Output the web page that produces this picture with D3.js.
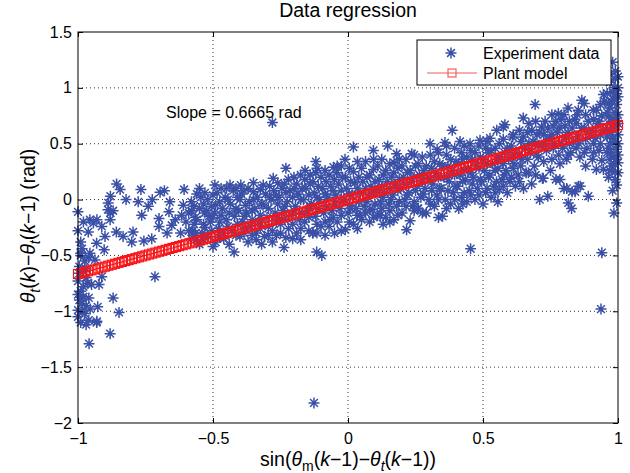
<!DOCTYPE html>
<html>
<head>
    <meta charset="utf-8">
    <title>Data regression</title>
    <script src="https://d3js.org/d3.v7.min.js"></script>
    <style>
        body { margin: 0; background: #fff; }
        text { font-family: "Liberation Sans", Arial, sans-serif; fill: #000; }
    </style>
</head>
<body>
    <script>
        // Experiment data as [x, y] pairs
        const leftEdge = [[-1,-0.11],[-0.99,-0.5],[-0.995,-0.6],[-1,-0.73],[-0.99,-0.82],[-0.98,-0.87],[-0.985,-0.93],[-1,-0.99],
            [-0.975,-1.02],[-0.96,-1.08],[-1,-1.05],[-0.99,-1.1],[-0.97,-0.95],[-0.98,-0.78],[-0.995,-0.66],[-0.97,-0.62],
            [-0.985,-0.44],[-0.99,-0.48],[-0.975,-0.55],[-0.99,-0.38],[-1,-0.28],[-0.98,-0.2],[-0.995,-0.9],[-0.97,-0.7],
            [-0.985,-1.0],[-0.96,-0.88],[-0.965,-0.75],[-1,-0.85],[-0.98,-0.64],[-0.96,-0.52],[-0.97,-1.12],[-0.955,-0.98]];

        const leftSparse = [[-0.857,0.14],[-0.844,0.09],[-0.767,0.09],[-0.696,0.065],[-0.607,0.09],[-0.822,0.0],[-0.777,-0.02],
            [-0.725,0.0],[-0.888,-0.03],[-0.889,-0.09],[-0.87,-0.1],[-0.956,-0.18],[-0.943,-0.21],[-0.912,-0.24],[-0.881,-0.18],
            [-0.764,-0.14],[-0.74,-0.06],[-0.70,-0.17],[-0.70,-0.24],[-0.663,-0.11],[-0.653,-0.23],[-0.616,-0.14],[-0.858,-0.29],
            [-0.833,-0.33],[-0.796,-0.29],[-0.756,-0.37],[-0.727,-0.35],[-0.801,-0.38],[-0.9,-0.33],[-0.931,-0.39],[-0.962,-0.29],
            [-0.956,-0.48],[-0.903,-0.45],[-0.937,-0.54],[-0.912,-0.69],[-0.95,-0.76],[-0.922,-0.76],[-0.927,-0.96],[-0.931,-1.10],
            [-0.87,-0.88],[-0.848,-1.01],[-0.881,-1.20],[-0.959,-1.29],[-0.715,-0.69],[-0.93,-1.09],[-0.6,-0.2],[-0.59,-0.28],
            [-0.62,-0.3],[-0.64,-0.18],[-0.58,-0.1],[-0.57,-0.32],[-0.61,-0.05],[-0.67,-0.3],[-0.66,-0.02],[-0.68,0.08],
            [-0.88,0.03],[-0.88,-0.12],[-0.93,-0.18]];

        const band = [[-0.58,-0.35],[-0.57,-0.22],[-0.59,-0.12],[-0.58,-0.02],[-0.56,0.05],[-0.575,-0.28],
            [-0.55,-0.4],[-0.54,-0.3],[-0.56,-0.18],[-0.55,-0.08],[-0.545,0.02],[-0.53,-0.25],[-0.55,0.1],
            [-0.52,-0.33],[-0.51,-0.2],[-0.525,-0.1],[-0.515,-0.15],[-0.52,0.0],[-0.5,-0.42],
            [-0.49,-0.38],[-0.48,-0.26],[-0.495,-0.12],[-0.49,-0.05],[-0.485,0.06],[-0.493,0.13],[-0.475,-0.2],
            [-0.46,-0.3],[-0.45,-0.18],[-0.465,-0.08],[-0.455,0.02],[-0.46,-0.35],[-0.45,0.1],
            [-0.43,-0.28],[-0.42,-0.15],[-0.435,-0.04],[-0.425,0.08],[-0.41,-0.22],[-0.437,0.13],
            [-0.4,-0.33],[-0.39,-0.2],[-0.405,-0.1],[-0.4,0.0],[-0.395,0.05],[-0.38,-0.26],[-0.397,0.13],
            [-0.37,-0.38],[-0.36,-0.24],[-0.375,-0.12],[-0.365,-0.02],[-0.37,0.1],[-0.355,-0.18],
            [-0.34,-0.3],[-0.33,-0.2],[-0.345,-0.08],[-0.335,0.02],[-0.35,0.15],[-0.325,-0.14],[-0.34,-0.36],
            [-0.31,-0.33],[-0.3,-0.16],[-0.315,-0.05],[-0.305,0.05],[-0.314,0.13],[-0.295,-0.24],
            [-0.28,-0.28],[-0.27,-0.12],[-0.285,0.0],[-0.275,0.08],[-0.277,0.19],[-0.265,-0.2],[-0.28,-0.38],
            [-0.25,-0.22],[-0.24,-0.1],[-0.255,0.02],[-0.245,0.1],[-0.25,-0.3],[-0.237,-0.43],[-0.26,0.15],
            [-0.22,-0.26],[-0.21,-0.14],[-0.225,-0.02],[-0.215,0.08],[-0.23,0.28],[-0.205,-0.35],[-0.221,0.18],
            [-0.19,-0.3],[-0.18,-0.18],[-0.195,-0.06],[-0.185,0.05],[-0.19,0.14],[-0.175,0.22],
            [-0.16,-0.2],[-0.15,-0.1],[-0.165,0.0],[-0.155,0.1],[-0.159,0.26],[-0.145,-0.28],[-0.16,0.18],
            [-0.13,-0.3],[-0.12,-0.15],[-0.135,-0.04],[-0.125,0.06],[-0.13,0.16],[-0.119,0.24],[-0.115,-0.22],
            [-0.1,-0.24],[-0.09,-0.12],[-0.105,0.0],[-0.095,0.1],[-0.1,0.2],[-0.119,0.34],
            [-0.07,-0.24],[-0.06,-0.1],[-0.075,0.02],[-0.065,0.12],[-0.07,0.22],[-0.067,-0.18],[-0.054,0.29],
            [-0.04,-0.2],[-0.03,-0.08],[-0.045,0.04],[-0.035,0.14],[-0.042,0.24],[-0.04,0.3],[-0.025,-0.28],
            [-0.01,-0.27],[0.0,-0.12],[-0.015,0.0],[-0.005,0.1],[-0.01,0.2],[-0.011,0.36],[0.005,-0.05],
            [0.02,-0.22],[0.03,-0.08],[0.015,0.04],[0.025,0.15],[0.02,0.25],[0.02,0.47],[0.035,-0.14],
            [0.05,-0.18],[0.06,-0.06],[0.045,0.06],[0.055,0.16],[0.05,0.28],[0.044,-0.14],
            [0.08,-0.2],[0.09,-0.09],[0.075,0.02],[0.085,0.12],[0.08,0.22],[0.094,0.44],[0.081,-0.09],
            [0.11,-0.14],[0.12,-0.02],[0.105,0.08],[0.115,0.18],[0.11,0.3],[0.119,-0.14],[0.094,0.27],
            [0.14,-0.16],[0.15,-0.04],[0.135,0.06],[0.145,0.16],[0.14,0.26],[0.147,0.48],[0.155,-0.2],
            [0.17,-0.18],[0.18,-0.06],[0.165,0.04],[0.175,0.14],[0.17,0.24],[0.18,0.41],[0.171,0.33],
            [0.2,-0.12],[0.21,0.0],[0.195,0.1],[0.205,0.2],[0.2,0.3],[0.217,-0.27],
            [0.23,-0.19],[0.24,-0.06],[0.225,0.06],[0.235,0.16],[0.23,0.26],[0.236,0.41],[0.245,-0.1],
            [0.26,-0.08],[0.27,0.02],[0.255,0.12],[0.265,0.22],[0.26,0.32],[0.258,-0.08],
            [0.29,-0.12],[0.3,0.0],[0.285,0.1],[0.295,0.2],[0.29,0.3],[0.304,0.5],
            [0.32,-0.06],[0.33,0.04],[0.315,0.14],[0.325,0.24],[0.32,0.34],[0.33,0.45],[0.335,-0.16],
            [0.35,-0.15],[0.36,0.0],[0.345,0.1],[0.355,0.2],[0.35,0.3],[0.359,0.51],[0.365,0.4],
            [0.38,-0.04],[0.39,0.06],[0.375,0.16],[0.385,0.26],[0.38,0.36],
            [0.41,-0.08],[0.42,0.02],[0.405,0.12],[0.415,0.22],[0.41,0.32],[0.415,0.52],[0.42,0.42],
            [0.44,-0.02],[0.45,0.08],[0.435,0.18],[0.445,0.28],[0.44,0.38],[0.452,0.5],
            [0.47,0.0],[0.48,0.1],[0.465,0.2],[0.475,0.3],[0.47,0.42],[0.489,0.53],
            [0.5,-0.04],[0.51,0.06],[0.495,0.16],[0.505,0.26],[0.5,0.36],[0.51,0.46],
            [0.53,0.02],[0.54,0.12],[0.525,0.22],[0.535,0.32],[0.526,0.55],[0.53,0.44],
            [0.56,0.09],[0.57,0.18],[0.555,0.28],[0.565,0.38],[0.551,0.62],[0.56,0.5],[0.555,-0.02],
            [0.59,0.06],[0.6,0.16],[0.585,0.26],[0.595,0.36],[0.581,0.67],[0.59,0.46],[0.575,0.65],
            [0.62,0.12],[0.63,0.22],[0.615,0.32],[0.612,0.58],[0.62,0.42],[0.612,0.28],
            [0.65,0.1],[0.66,0.24],[0.645,0.36],[0.655,0.46],[0.65,0.56],[0.649,0.73],
            [0.68,0.14],[0.69,0.3],[0.675,0.42],[0.685,0.52],[0.68,0.62],[0.693,0.85],[0.668,0.24],
            [0.71,0.0],[0.72,0.19],[0.705,0.38],[0.715,0.48],[0.71,0.6],[0.717,0.65],
            [0.74,0.03],[0.75,0.26],[0.735,0.44],[0.745,0.54],[0.74,0.64],[0.748,0.55],
            [0.77,0.18],[0.78,0.4],[0.765,0.5],[0.775,0.6],[0.779,0.77],[0.77,0.7],
            [0.8,0.1],[0.81,0.36],[0.795,0.46],[0.805,0.56],[0.804,0.66],[0.8,0.76],[0.816,-0.03],
            [0.83,0.07],[0.828,-0.08],[0.825,0.42],[0.835,0.52],[0.83,0.64],[0.84,0.72],
            [0.86,0.12],[0.859,0.38],[0.855,0.5],[0.865,0.64],[0.866,0.89],[0.853,0.8],
            [0.89,0.03],[0.88,0.3],[0.885,0.46],[0.895,0.58],[0.89,0.7],[0.909,0.8],
            [0.92,0.27],[0.91,0.42],[0.915,0.55],[0.925,0.68],[0.92,0.8],[0.946,0.94],
            [0.946,0.27],[0.94,0.35],[0.935,0.5],[0.945,0.62],[0.94,0.75],[0.95,0.88],
            [0.81,0.10],[0.841,0.07],[0.785,0.18],[0.723,0.19],[0.853,0.12]];

        // extra points filling the dense middle of the cloud
        const bandFill = [[-0.565,-0.3],[-0.565,-0.16],[-0.57,-0.06],[-0.56,-0.36],
            [-0.535,-0.36],[-0.535,-0.22],[-0.53,-0.12],[-0.535,-0.04],[-0.53,0.06],
            [-0.505,-0.28],[-0.5,-0.16],[-0.505,-0.06],[-0.5,0.04],
            [-0.475,-0.34],[-0.47,-0.14],[-0.475,-0.02],[-0.47,0.1],
            [-0.445,-0.24],[-0.44,-0.12],[-0.445,0.0],[-0.44,-0.4],
            [-0.415,-0.32],[-0.415,-0.08],[-0.41,0.02],[-0.415,0.1],
            [-0.385,-0.3],[-0.385,-0.15],[-0.38,-0.05],[-0.385,0.08],
            [-0.355,-0.32],[-0.355,-0.1],[-0.35,0.0],[-0.35,0.07],
            [-0.325,-0.26],[-0.32,-0.04],[-0.325,0.09],[-0.32,-0.4],
            [-0.295,-0.08],[-0.29,0.02],[-0.295,-0.32],[-0.29,0.12],
            [-0.265,-0.32],[-0.26,-0.04],[-0.265,0.04],[-0.26,-0.16],
            [-0.235,-0.18],[-0.235,-0.06],[-0.23,0.06],[-0.235,0.14],[-0.23,-0.34],
            [-0.205,-0.22],[-0.2,-0.1],[-0.205,0.02],[-0.2,0.1],[-0.2,0.2],
            [-0.175,-0.26],[-0.17,-0.12],[-0.175,0.0],[-0.17,0.1],[-0.175,-0.36],
            [-0.145,-0.16],[-0.14,-0.06],[-0.145,0.04],[-0.14,0.14],[-0.14,0.22],
            [-0.115,-0.3],[-0.11,-0.08],[-0.115,0.02],[-0.11,0.12],[-0.115,0.28],
            [-0.085,-0.2],[-0.08,-0.06],[-0.085,0.05],[-0.08,0.16],[-0.085,0.26],[-0.085,-0.32],
            [-0.055,-0.16],[-0.05,-0.04],[-0.055,0.08],[-0.05,0.18],[-0.05,-0.3],
            [-0.025,-0.14],[-0.02,-0.02],[-0.025,0.08],[-0.02,0.2],[-0.025,0.3],
            [0.005,-0.2],[0.01,-0.08],[0.005,0.05],[0.01,0.16],[0.005,0.28],
            [0.035,-0.26],[0.04,-0.02],[0.035,0.1],[0.04,0.2],[0.035,0.34],
            [0.065,-0.12],[0.07,-0.02],[0.065,0.1],[0.07,0.2],[0.065,0.34],
            [0.095,-0.16],[0.1,-0.04],[0.095,0.06],[0.1,0.16],[0.095,0.36],
            [0.125,-0.08],[0.13,0.02],[0.125,0.12],[0.13,0.22],[0.125,0.36],[0.13,-0.22],
            [0.155,-0.1],[0.16,0.0],[0.155,0.1],[0.16,0.2],[0.155,0.32],
            [0.185,-0.14],[0.19,-0.02],[0.185,0.08],[0.19,0.18],[0.185,0.28],[0.19,0.36],
            [0.215,-0.06],[0.22,0.04],[0.215,0.14],[0.22,0.24],[0.215,0.36],
            [0.245,-0.02],[0.25,0.08],[0.245,0.2],[0.25,0.3],[0.245,0.4],
            [0.275,-0.12],[0.28,0.05],[0.275,0.16],[0.28,0.26],[0.275,0.38],
            [0.305,-0.04],[0.31,0.08],[0.305,0.18],[0.31,0.28],[0.305,0.4],
            [0.335,0.0],[0.34,0.1],[0.335,0.2],[0.34,0.32],[0.335,0.42],
            [0.365,-0.08],[0.37,0.08],[0.365,0.2],[0.37,0.3],[0.365,0.48],
            [0.395,0.0],[0.4,0.12],[0.395,0.22],[0.4,0.34],[0.395,0.46],
            [0.425,-0.04],[0.43,0.06],[0.425,0.16],[0.43,0.26],[0.425,0.36],[0.43,0.48],
            [0.455,0.04],[0.46,0.14],[0.455,0.24],[0.46,0.36],[0.455,0.44],
            [0.485,0.04],[0.49,0.18],[0.485,0.28],[0.49,0.38],[0.485,0.48],
            [0.515,0.1],[0.52,0.2],[0.515,0.32],[0.52,0.42],[0.515,0.52],
            [0.545,0.06],[0.55,0.16],[0.545,0.26],[0.55,0.36],[0.545,0.46],
            [0.575,0.12],[0.58,0.22],[0.575,0.32],[0.58,0.42],[0.575,0.54],
            [0.605,0.2],[0.61,0.38],[0.605,0.48],[0.61,0.56],
            [0.635,0.16],[0.64,0.3],[0.635,0.4],[0.64,0.52],[0.635,0.62],
            [0.665,0.36],[0.67,0.5],[0.665,0.6],[0.67,0.68],
            [0.695,0.22],[0.7,0.4],[0.695,0.5],[0.7,0.58],[0.695,0.7],
            [0.725,0.34],[0.73,0.5],[0.725,0.58],[0.73,0.7],
            [0.755,0.36],[0.76,0.46],[0.755,0.58],[0.76,0.66],[0.755,0.76],
            [0.785,0.32],[0.79,0.5],[0.785,0.64],[0.79,0.72],
            [0.815,0.4],[0.82,0.5],[0.815,0.6],[0.82,0.7],[0.815,0.82],
            [0.845,0.46],[0.85,0.56],[0.845,0.68],[0.85,0.76],
            [0.875,0.42],[0.88,0.54],[0.875,0.64],[0.88,0.76],[0.875,0.86],
            [0.905,0.36],[0.91,0.5],[0.905,0.62],[0.91,0.72],
            [0.93,0.44],[0.935,0.58],[0.93,0.7],[0.935,0.85]];

        const rightEdge = [[0.97,1.05],[0.98,1.23],[0.99,1.15],[1.0,1.0],[0.96,0.95],[0.985,0.9],[0.995,0.85],[0.97,0.82],
            [1.0,0.76],[0.975,0.7],[0.99,0.66],[0.96,0.62],[1.0,0.58],[0.98,0.55],[0.97,0.5],[0.995,0.45],[0.96,0.42],
            [0.985,0.38],[1.0,0.33],[0.975,0.3],[0.99,0.25],[0.965,0.2],[0.995,0.13],[0.98,0.08],[0.995,-0.03],
            [0.985,-0.12],[1.0,0.92],[0.99,1.08],[0.965,0.74],[0.98,0.64],[1.0,0.5],[0.97,0.36],[0.99,0.18],
            [0.975,0.88],[0.985,0.72],[1.0,0.4],[0.96,0.56],[0.995,0.95],[0.97,1.12],[1.0,0.68],
            [0.985,1.0],[0.965,0.86],[0.99,0.78],[0.975,0.6],[0.99,0.52],[0.965,0.46],[0.985,0.32],[1.0,0.24],
            [0.97,0.26],[0.995,0.7],[0.96,0.78],[0.98,0.96],[1.0,1.1],[0.975,0.42],[0.99,0.36]];

        const outliers = [[-0.28,0.69],[-0.126,-1.82],[0.937,-0.98],[0.94,-0.475],[0.454,-0.44],[-0.116,-0.47],
            [-0.097,-0.5],[-0.422,-0.47],[0.386,0.62],[-0.131,-0.3]];

        // Plant model (slope 0.6665 rad), sampled densely like the data
        const modelX = [-1,-0.975,-0.95,-0.925,-0.9,-0.875,-0.85,-0.825,-0.8,-0.775,-0.75,-0.725,-0.7,-0.675,-0.65,-0.625,
            -0.6,-0.575,-0.55,-0.525,-0.5,-0.475,-0.45,-0.425,-0.4,-0.375,-0.35,-0.325,-0.3,-0.275,-0.25,-0.225,-0.2,
            -0.175,-0.15,-0.125,-0.1,-0.075,-0.05,-0.025,0,0.025,0.05,0.075,0.1,0.125,0.15,0.175,0.2,0.225,0.25,0.275,
            0.3,0.325,0.35,0.375,0.4,0.425,0.45,0.475,0.5,0.525,0.55,0.575,0.6,0.625,0.65,0.675,0.7,0.725,0.75,0.775,
            0.8,0.825,0.85,0.875,0.9,0.925,0.95,0.975,1];
        const modelY = [-0.6665,-0.6498,-0.6332,-0.6165,-0.5999,-0.5832,-0.5665,-0.5499,-0.5332,-0.5165,-0.4999,-0.4832,
            -0.4666,-0.4499,-0.4332,-0.4166,-0.3999,-0.3832,-0.3666,-0.3499,-0.3333,-0.3166,-0.2999,-0.2833,-0.2666,
            -0.2499,-0.2333,-0.2166,-0.2,-0.1833,-0.1666,-0.15,-0.1333,-0.1166,-0.1,-0.0833,-0.0667,-0.05,-0.0333,
            -0.0167,0,0.0167,0.0333,0.05,0.0667,0.0833,0.1,0.1166,0.1333,0.15,0.1666,0.1833,0.2,0.2166,0.2333,0.2499,
            0.2666,0.2833,0.2999,0.3166,0.3333,0.3499,0.3666,0.3832,0.3999,0.4166,0.4332,0.4499,0.4666,0.4832,0.4999,
            0.5165,0.5332,0.5499,0.5665,0.5832,0.5999,0.6165,0.6332,0.6498,0.6665];
        const modelXMid = [-0.9875,-0.9625,-0.9375,-0.9125,-0.8875,-0.8625,-0.8375,-0.8125,-0.7875,-0.7625,-0.7375,-0.7125,
            -0.6875,-0.6625,-0.6375,-0.6125,-0.5875,-0.5625,-0.5375,-0.5125,-0.4875,-0.4625,-0.4375,-0.4125,-0.3875,
            -0.3625,-0.3375,-0.3125,-0.2875,-0.2625,-0.2375,-0.2125,-0.1875,-0.1625,-0.1375,-0.1125,-0.0875,-0.0625,
            -0.0375,-0.0125,0.0125,0.0375,0.0625,0.0875,0.1125,0.1375,0.1625,0.1875,0.2125,0.2375,0.2625,0.2875,0.3125,
            0.3375,0.3625,0.3875,0.4125,0.4375,0.4625,0.4875,0.5125,0.5375,0.5625,0.5875,0.6125,0.6375,0.6625,0.6875,
            0.7125,0.7375,0.7625,0.7875,0.8125,0.8375,0.8625,0.8875,0.9125,0.9375,0.9625,0.9875];
        const modelYMid = [-0.6582,-0.6416,-0.6249,-0.6082,-0.5916,-0.5749,-0.5582,-0.5416,-0.5249,-0.5082,-0.4916,-0.4749,
            -0.4583,-0.4416,-0.4249,-0.4083,-0.3916,-0.3749,-0.3583,-0.3416,-0.3249,-0.3083,-0.2916,-0.275,-0.2583,
            -0.2416,-0.225,-0.2083,-0.1916,-0.175,-0.1583,-0.1416,-0.125,-0.1083,-0.0916,-0.075,-0.0583,-0.0417,
            -0.025,-0.0083,0.0083,0.025,0.0417,0.0583,0.075,0.0916,0.1083,0.125,0.1416,0.1583,0.175,0.1916,0.2083,
            0.225,0.2416,0.2583,0.275,0.2916,0.3083,0.3249,0.3416,0.3583,0.3749,0.3916,0.4083,0.4249,0.4416,0.4583,
            0.4749,0.4916,0.5082,0.5249,0.5416,0.5582,0.5749,0.5916,0.6082,0.6249,0.6416,0.6582];

        const xTicks = [-1, -0.5, 0, 0.5, 1];
        const yTicks = [-2, -1.5, -1, -0.5, 0, 0.5, 1, 1.5];

        const margin = { top: 32, right: 12, bottom: 50, left: 78 },
            width = 630 - margin.left - margin.right,
            height = 473 - margin.top - margin.bottom;

        const svg = d3.select("body")
            .append("svg")
            .attr("width", 630)
            .attr("height", 473);

        const g = svg.append("g")
            .attr("transform", `translate(${margin.left},${margin.top})`);

        const x = d3.scaleLinear().domain([-1, 1]).range([0, width]);
        const y = d3.scaleLinear().domain([-2, 1.5]).range([height, 0]);

        const fmt = d => d3.format("")(d).replace("-", "\u2212");

        // dotted grid
        g.selectAll(".vgrid")
            .data(xTicks.slice(1, -1))
            .enter().append("line")
            .attr("x1", d => x(d)).attr("x2", d => x(d))
            .attr("y1", 0).attr("y2", height)
            .attr("stroke", "#000").attr("stroke-width", 0.8)
            .attr("stroke-dasharray", "1,3");
        g.selectAll(".hgrid")
            .data(yTicks.slice(1, -1))
            .enter().append("line")
            .attr("x1", 0).attr("x2", width)
            .attr("y1", d => y(d)).attr("y2", d => y(d))
            .attr("stroke", "#000").attr("stroke-width", 0.8)
            .attr("stroke-dasharray", "1,3");

        // asterisk marker like matlab '*'
        const r = 5.5, dd = r * 0.707;
        const star = `M${-r},0H${r}M0,${-r}V${r}M${-dd},${-dd}L${dd},${dd}M${-dd},${dd}L${dd},${-dd}`;
        const blue = "#3a50a6";
        const red = "#f5161a";

        const points = [].concat(leftEdge, leftSparse, band, bandFill, rightEdge, outliers);
        g.selectAll(".pt")
            .data(points)
            .enter().append("path")
            .attr("class", "pt")
            .attr("transform", d => `translate(${x(d[0])},${y(d[1])})`)
            .attr("d", star)
            .attr("fill", "none")
            .attr("stroke", blue)
            .attr("stroke-width", 1.5);

        // plant model line + square markers
        const model = modelX.map((v, i) => [v, modelY[i]]);
        const modelMarks = model.concat(modelXMid.map((v, i) => [v, modelYMid[i]]));
        g.append("path")
            .datum(model)
            .attr("d", d3.line().x(d => x(d[0])).y(d => y(d[1])))
            .attr("fill", "none")
            .attr("stroke", red)
            .attr("stroke-width", 1.2);
        g.selectAll(".sq")
            .data(modelMarks)
            .enter().append("rect")
            .attr("x", d => x(d[0]) - 4.5).attr("y", d => y(d[1]) - 4.5)
            .attr("width", 9).attr("height", 9)
            .attr("fill", "none")
            .attr("stroke", red)
            .attr("stroke-width", 1.2);

        // axes box with inward ticks on all sides
        const tickLen = 5;
        g.append("rect")
            .attr("width", width).attr("height", height)
            .attr("fill", "none").attr("stroke", "#000").attr("stroke-width", 1);

        const axB = g.append("g").attr("transform", `translate(0,${height})`)
            .call(d3.axisBottom(x).tickValues(xTicks).tickSize(-tickLen).tickPadding(10).tickFormat(fmt));
        const axT = g.append("g")
            .call(d3.axisTop(x).tickValues(xTicks).tickSize(-tickLen).tickFormat(""));
        const axL = g.append("g")
            .call(d3.axisLeft(y).tickValues(yTicks).tickSize(-tickLen).tickPadding(6).tickFormat(fmt));
        const axR = g.append("g").attr("transform", `translate(${width},0)`)
            .call(d3.axisRight(y).tickValues(yTicks).tickSize(-tickLen).tickFormat(""));
        [axB, axT, axL, axR].forEach(a => {
            a.select(".domain").remove();
            a.selectAll("text").style("font-size", "16px").attr("font-family", null);
        });

        // slope annotation
        g.append("text")
            .attr("x", x(-0.674)).attr("y", y(0.73))
            .style("font-size", "16px")
            .text("Slope = 0.6665 rad");

        // title
        svg.append("text")
            .attr("x", margin.left + width / 2).attr("y", 17)
            .attr("text-anchor", "middle")
            .style("font-size", "19.5px")
            .text("Data regression");

        // x label: sin(θm(k−1)−θt(k−1))
        const xl = svg.append("text")
            .attr("x", margin.left + width / 2).attr("y", 466)
            .attr("text-anchor", "middle")
            .style("font-size", "19.5px");
        xl.append("tspan").text("sin(");
        xl.append("tspan").style("font-style", "italic").text("\u03b8");
        xl.append("tspan").attr("dy", 5).style("font-size", "14px").text("m");
        xl.append("tspan").attr("dy", -5).text("(");
        xl.append("tspan").style("font-style", "italic").text("k");
        xl.append("tspan").text("\u22121)\u2212");
        xl.append("tspan").style("font-style", "italic").text("\u03b8");
        xl.append("tspan").attr("dy", 5).style("font-size", "14px").style("font-style", "italic").text("t");
        xl.append("tspan").attr("dy", -5).text("(");
        xl.append("tspan").style("font-style", "italic").text("k");
        xl.append("tspan").text("\u22121))");

        // y label: θt(k)−θt(k−1) (rad)
        const yl = svg.append("text")
            .attr("transform", "translate(35,226) rotate(-90)")
            .attr("text-anchor", "middle")
            .style("font-size", "19.5px");
        yl.append("tspan").style("font-style", "italic").text("\u03b8");
        yl.append("tspan").attr("dy", 5).style("font-size", "14px").style("font-style", "italic").text("t");
        yl.append("tspan").attr("dy", -5).text("(");
        yl.append("tspan").style("font-style", "italic").text("k");
        yl.append("tspan").text(")\u2212");
        yl.append("tspan").style("font-style", "italic").text("\u03b8");
        yl.append("tspan").attr("dy", 5).style("font-size", "14px").style("font-style", "italic").text("t");
        yl.append("tspan").attr("dy", -5).text("(");
        yl.append("tspan").style("font-style", "italic").text("k");
        yl.append("tspan").text("\u22121) (rad)");

        // legend
        const lg = svg.append("g").attr("transform", "translate(417,40)");
        lg.append("rect")
            .attr("width", 194).attr("height", 45)
            .attr("fill", "#fff").attr("stroke", "#000").attr("stroke-width", 1);
        lg.append("path")
            .attr("transform", "translate(34,13)")
            .attr("d", star).attr("fill", "none").attr("stroke", blue).attr("stroke-width", 1.5);
        lg.append("text").attr("x", 66).attr("y", 19).style("font-size", "16px").text("Experiment data");
        lg.append("line")
            .attr("x1", 10).attr("x2", 60).attr("y1", 33).attr("y2", 33)
            .attr("stroke", "#f0605a").attr("stroke-width", 1.2);
        lg.append("rect")
            .attr("x", 31).attr("y", 29).attr("width", 8).attr("height", 8)
            .attr("fill", "none").attr("stroke", "#f0605a").attr("stroke-width", 1.2);
        lg.append("text").attr("x", 66).attr("y", 39).style("font-size", "16px").text("Plant model");
    </script>
</body>
</html>
